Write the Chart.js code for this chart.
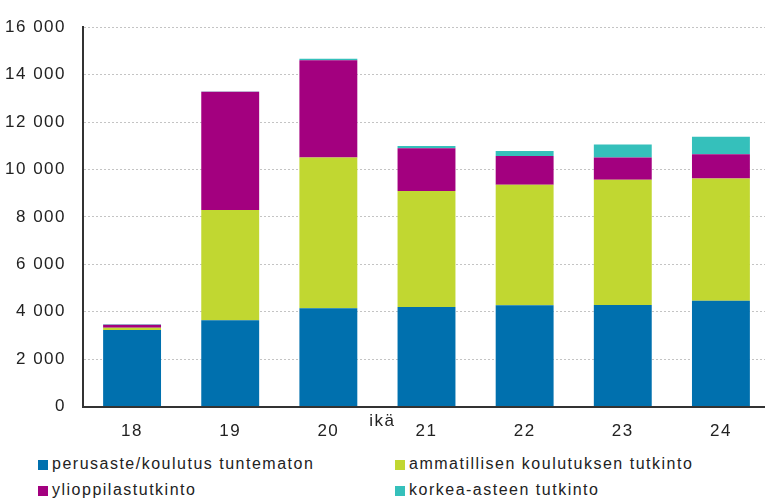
<!DOCTYPE html>
<html>
<head>
<meta charset="utf-8">
<script src="https://cdn.jsdelivr.net/npm/chart.js@4"></script>
<style>
  html, body { margin: 0; padding: 0; background: #fff; overflow: hidden; }
  body { width: 765px; height: 499px; position: relative; font-family: "Liberation Sans", Arial, sans-serif; }
  #wrap { position: absolute; left: 0; top: 0; width: 772px; height: 455px; }
  .legend { position: absolute; font-size: 16px; letter-spacing: 1.5px; color: #222; white-space: nowrap; }
  .legend i { display: inline-block; width: 10px; height: 10px; margin-right: 4px; vertical-align: -1px; }
</style>
</head>
<body>
<div id="wrap"><canvas id="chart"></canvas></div>
<div id="legend"></div>
<script>
// values
const ages = ['18', '19', '20', '21', '22', '23', '24'];
const perusaste = [3230, 3640, 4150, 4200, 4270, 4280, 4460];
const ammatillinen = [90, 4650, 6360, 4890, 5090, 5290, 5160];
const ylioppilas = [130, 4990, 4100, 1810, 1210, 930, 1020];
const korkea = [20, 10, 60, 90, 210, 550, 740];
const yTicks = [0, 2000, 4000, 6000, 8000, 10000, 12000, 14000, 16000];

const series = [
    { label: 'perusaste/koulutus tuntematon', data: perusaste, color: '#0070ae' },
    { label: 'ammatillisen koulutuksen tutkinto', data: ammatillinen, color: '#c1d731' },
    { label: 'ylioppilastutkinto', data: ylioppilas, color: '#a3007f' },
    { label: 'korkea-asteen tutkinto', data: korkea, color: '#35c0bb' },
];

const fmt = v => String(v).replace(/\B(?=(\d{3})+(?!\d))/g, ' ');
const font = { size: 17, family: '"Liberation Sans", Arial, sans-serif' };

// canvas state gets reset on resize, so set spacing before layout and draw
const spacing = {
    id: 'spacing',
    beforeLayout(chart) { chart.ctx.letterSpacing = '1.5px'; },
    beforeDraw(chart) { chart.ctx.letterSpacing = '1.5px'; },
};

// axis title "ikä" sits between the 20 and 21 labels
const axisTitle = {
    id: 'axisTitle',
    afterDraw(chart) {
        const x = chart.scales.x;
        const ctx = chart.ctx;
        ctx.save();
        ctx.font = '17px "Liberation Sans", Arial, sans-serif';
        ctx.fillStyle = '#222';
        ctx.textAlign = 'center';
        ctx.textBaseline = 'alphabetic';
        ctx.fillText('ikä', x.getPixelForValue(2.5) + 5, chart.chartArea.bottom + 19);
        ctx.restore();
    }
};

const chart = new Chart(document.getElementById('chart').getContext('2d'), {
    type: 'bar',
    data: {
        labels: ages,
        datasets: series.map(s => ({
            label: s.label,
            data: s.data,
            backgroundColor: s.color,
            borderWidth: 0,
            barPercentage: 0.59,
            categoryPercentage: 1,
        }))
    },
    options: {
        responsive: true,
        maintainAspectRatio: false,
        animation: false,
        layout: { padding: { top: 24, left: 5, right: 2, bottom: 6 } },
        scales: {
            x: {
                stacked: true,
                grid: { display: false },
                border: { color: '#333', width: 2 },
                ticks: { color: '#222', font, padding: 7, maxRotation: 0 }
            },
            y: {
                stacked: true,
                min: 0,
                max: 16000,
                afterBuildTicks(scale) { scale.ticks = yTicks.map(v => ({ value: v })); },
                afterFit(scale) { scale.width = 78; },
                grid: { color: '#c4c4c4', lineWidth: 1, drawTicks: false },
                border: { color: '#333', width: 2, dash: [2, 2] },
                ticks: {
                    color: '#222',
                    font,
                    padding: 17,
                    callback: v => fmt(v)
                }
            }
        },
        plugins: {
            legend: { display: false },
            tooltip: { enabled: false }
        }
    },
    plugins: [spacing, axisTitle]
});

// two-column legend under the chart
const spots = [[38, 455], [395, 455], [38, 481], [395, 481]];
const legend = document.getElementById('legend');
series.forEach((s, i) => {
    const d = document.createElement('div');
    d.className = 'legend';
    d.style.left = spots[i][0] + 'px';
    d.style.top = spots[i][1] + 'px';
    d.innerHTML = '<i style="background:' + s.color + '"></i>' + s.label;
    legend.appendChild(d);
});
</script>
</body>
</html>
